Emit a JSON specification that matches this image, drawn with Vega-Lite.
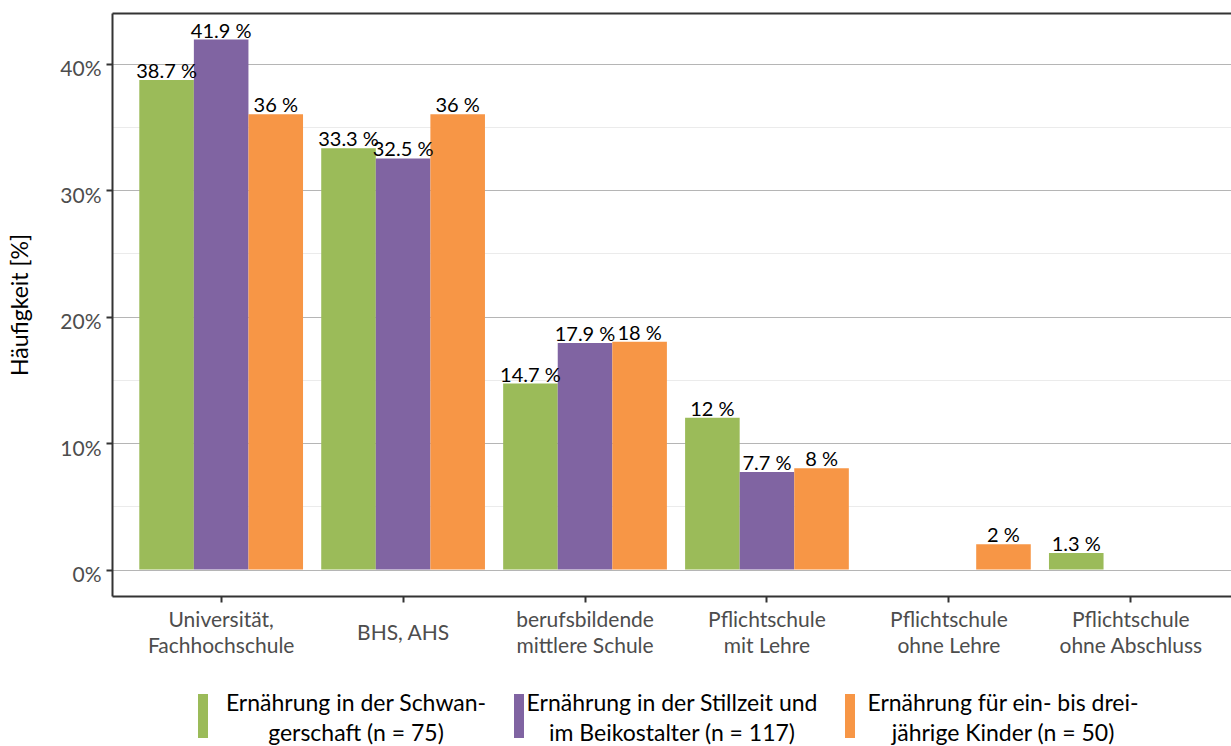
{
  "$schema": "https://vega.github.io/schema/vega-lite/v6.json",
  "width": 1119,
  "height": 583,
  "autosize": "none",
  "padding": {"left": 112, "top": 13, "right": 0, "bottom": 150},
  "config": {"view": {"stroke": null}, "font": "Lato"},
  "data": {
    "values": [
      {"bildung": "Universität,\nFachhochschule", "gruppe": "Ernährung in der Schwan-\ngerschaft (n = 75)", "pct": 38.7, "label": "38.7 %"},
      {"bildung": "Universität,\nFachhochschule", "gruppe": "Ernährung in der Stillzeit und\nim Beikostalter (n = 117)", "pct": 41.9, "label": "41.9 %"},
      {"bildung": "Universität,\nFachhochschule", "gruppe": "Ernährung für ein- bis drei-\njährige Kinder (n = 50)", "pct": 36, "label": "36 %"},
      {"bildung": "BHS, AHS", "gruppe": "Ernährung in der Schwan-\ngerschaft (n = 75)", "pct": 33.3, "label": "33.3 %"},
      {"bildung": "BHS, AHS", "gruppe": "Ernährung in der Stillzeit und\nim Beikostalter (n = 117)", "pct": 32.5, "label": "32.5 %"},
      {"bildung": "BHS, AHS", "gruppe": "Ernährung für ein- bis drei-\njährige Kinder (n = 50)", "pct": 36, "label": "36 %"},
      {"bildung": "berufsbildende\nmittlere Schule", "gruppe": "Ernährung in der Schwan-\ngerschaft (n = 75)", "pct": 14.7, "label": "14.7 %"},
      {"bildung": "berufsbildende\nmittlere Schule", "gruppe": "Ernährung in der Stillzeit und\nim Beikostalter (n = 117)", "pct": 17.9, "label": "17.9 %"},
      {"bildung": "berufsbildende\nmittlere Schule", "gruppe": "Ernährung für ein- bis drei-\njährige Kinder (n = 50)", "pct": 18, "label": "18 %"},
      {"bildung": "Pflichtschule\nmit Lehre", "gruppe": "Ernährung in der Schwan-\ngerschaft (n = 75)", "pct": 12, "label": "12 %"},
      {"bildung": "Pflichtschule\nmit Lehre", "gruppe": "Ernährung in der Stillzeit und\nim Beikostalter (n = 117)", "pct": 7.7, "label": "7.7 %"},
      {"bildung": "Pflichtschule\nmit Lehre", "gruppe": "Ernährung für ein- bis drei-\njährige Kinder (n = 50)", "pct": 8, "label": "8 %"},
      {"bildung": "Pflichtschule\nohne Lehre", "gruppe": "Ernährung für ein- bis drei-\njährige Kinder (n = 50)", "pct": 2, "label": "2 %"},
      {"bildung": "Pflichtschule\nohne Abschluss", "gruppe": "Ernährung in der Schwan-\ngerschaft (n = 75)", "pct": 1.3, "label": "1.3 %"}
    ]
  },
  "layer": [
    {
      "mark": {"type": "bar"},
      "encoding": {
        "x": {
          "field": "bildung", "type": "nominal", "sort": null,
          "scale": {"range": [0, 1128], "paddingInner": 0.1, "paddingOuter": 0.15},
          "axis": {
            "orient": "bottom", "title": null,
            "labelExpr": "split(datum.label, '\\n')",
            "labelBaseline": "top",
            "labelPadding": {"condition": {"test": "indexof(datum.value, '\\n') < 0", "value": 20}, "value": 7},
            "labelLineHeight": 26,
            "labelFontSize": 21, "labelColor": "#4d4d4d", "labelAngle": 0, "labelLimit": 0,
            "tickSize": 6, "tickColor": "#333333", "tickWidth": 2,
            "domainColor": "#333333", "domainWidth": 2, "grid": false
          }
        },
        "xOffset": {
          "field": "gruppe", "type": "nominal", "sort": null,
          "scale": {"domain": ["Ernährung in der Schwan-\ngerschaft (n = 75)", "Ernährung in der Stillzeit und\nim Beikostalter (n = 117)", "Ernährung für ein- bis drei-\njährige Kinder (n = 50)"], "paddingInner": 0, "paddingOuter": 0}
        },
        "y": {
          "field": "pct", "type": "quantitative", "stack": null,
          "scale": {"domain": [-2.095, 43.995], "nice": false, "zero": false},
          "axis": {
            "values": [0, 5, 10, 15, 20, 25, 30, 35, 40],
            "labelExpr": "datum.value % 10 === 0 ? datum.value + '%' : ''",
            "labelFontSize": 21, "labelColor": "#4d4d4d", "labelPadding": 5, "labelOffset": 6,
            "tickSize": 6, "tickWidth": 2,
            "tickColor": {"condition": {"test": "datum.value % 10 !== 0", "value": "transparent"}, "value": "#333333"},
            "gridColor": {"condition": {"test": "datum.value % 10 !== 0", "value": "#ebebeb"}, "value": "#b5b5b5"},
            "gridWidth": 1.2,
            "domainColor": "#333333", "domainWidth": 2,
            "title": "Häufigkeit [%]", "titleFontSize": 23, "titleFontWeight": "normal",
            "titleColor": "black", "titlePadding": 27
          }
        },
        "y2": {"datum": 0},
        "color": {
          "field": "gruppe", "type": "nominal", "sort": null,
          "scale": {
            "domain": ["Ernährung in der Schwan-\ngerschaft (n = 75)", "Ernährung in der Stillzeit und\nim Beikostalter (n = 117)", "Ernährung für ein- bis drei-\njährige Kinder (n = 50)"],
            "range": ["#9BBB59", "#8064A2", "#F79646"]
          },
          "legend": {
            "orient": "none", "legendX": 69, "legendY": 681, "direction": "horizontal", "columns": 3,
            "title": null, "padding": 0,
            "symbolType": "M-0.227,-1H0.227V1H-0.227Z", "symbolSize": 1936, "symbolStrokeWidth": 0,
            "labelFontSize": 23, "labelColor": "black",
            "labelExpr": "split(datum.label, '\\n')",
            "labelAlign": "center", "labelBaseline": "bottom", "labelOffset": 131, "labelLimit": 0,
            "columnPadding": 10, "gridAlign": "none",
            "encode": {"labels": {"update": {"lineHeight": {"value": 30}}}}
          }
        }
      }
    },
    {
      "mark": {"type": "text", "baseline": "alphabetic", "dy": -2, "fontSize": 20, "color": "black"},
      "encoding": {
        "x": {
          "field": "bildung", "type": "nominal", "sort": null,
          "axis": {"orient": "top", "labels": false, "ticks": false, "title": null, "grid": false, "domainColor": "#333333", "domainWidth": 2}
        },
        "xOffset": {"field": "gruppe", "type": "nominal", "sort": null},
        "y": {"field": "pct", "type": "quantitative", "stack": null},
        "text": {"field": "label"}
      }
    }
  ],
  "resolve": {"axis": {"x": "independent"}}
}
